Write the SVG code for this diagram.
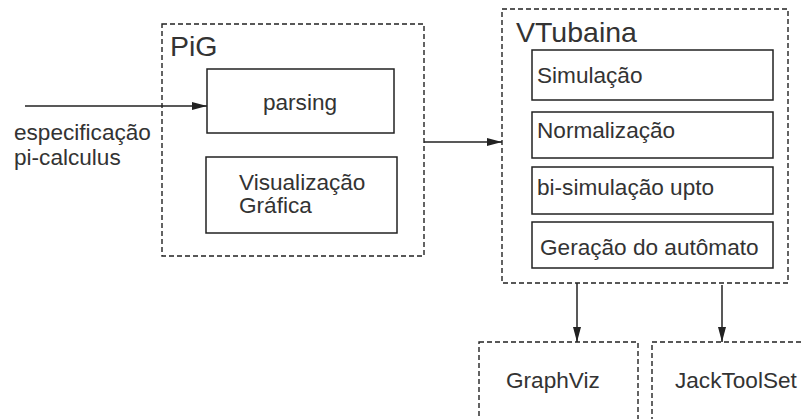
<svg xmlns="http://www.w3.org/2000/svg" width="803" height="419" viewBox="0 0 803 419">
<style>
text{font-family:"Liberation Sans",Arial,sans-serif;fill:#333;font-size:22.6px}
.big{font-size:28.5px}
.dash{fill:none;stroke:#222;stroke-width:1.4;stroke-dasharray:5,3}
.box{fill:none;stroke:#222;stroke-width:1.5}
.conn{fill:none;stroke:#222;stroke-width:1.5}
</style>
<defs>
<marker id="ah" markerWidth="15" markerHeight="10" refX="15" refY="5" orient="auto" markerUnits="userSpaceOnUse">
<path d="M0,1 L15,5 L0,9 Z" fill="#222"/>
</marker>
</defs>
<rect width="803" height="419" fill="#fff"/>
<g id="pig">
<rect class="dash" x="162" y="24" width="262" height="232"/>
<text class="big" x="170" y="56">PiG</text>
</g>
<g id="parsing">
<rect class="box" x="207" y="69" width="187" height="64"/>
<text x="300" y="110" text-anchor="middle">parsing</text>
</g>
<g id="visualizacao">
<rect class="box" x="206" y="157" width="191" height="76"/>
<text x="239" y="190">Visualização</text>
<text x="239" y="213">Gráfica</text>
</g>
<g id="vtubaina">
<rect class="dash" x="502" y="9" width="286" height="274"/>
<text class="big" x="516" y="42">VTubaina</text>
</g>
<g id="simulacao">
<rect class="box" x="532" y="50" width="241" height="50"/>
<text x="537" y="83">Simulação</text>
</g>
<g id="normalizacao">
<rect class="box" x="532" y="112" width="241" height="46"/>
<text x="537" y="138">Normalização</text>
</g>
<g id="bisimulacao">
<rect class="box" x="532" y="167" width="241" height="47"/>
<text x="537" y="195">bi-simulação upto</text>
</g>
<g id="geracao">
<rect class="box" x="532" y="222" width="241" height="46"/>
<text x="540" y="255">Geração do autômato</text>
</g>
<g id="graphviz">
<rect class="dash" x="479" y="342" width="159" height="90"/>
<text x="506" y="388">GraphViz</text>
</g>
<g id="jacktoolset">
<rect class="dash" x="652" y="342" width="170" height="90"/>
<text x="675" y="388">JackToolSet</text>
</g>
<g id="input-label">
<text x="14" y="140">especificação</text>
<text x="14" y="165">pi-calculus</text>
</g>
<g id="connectors">
<line class="conn" x1="25" y1="106" x2="207" y2="106" marker-end="url(#ah)"/>
<line class="conn" x1="424" y1="142" x2="502" y2="142" marker-end="url(#ah)"/>
<line class="conn" x1="577" y1="283" x2="577" y2="342" marker-end="url(#ah)"/>
<line class="conn" x1="722" y1="285" x2="722" y2="342" marker-end="url(#ah)"/>
</g>
</svg>
